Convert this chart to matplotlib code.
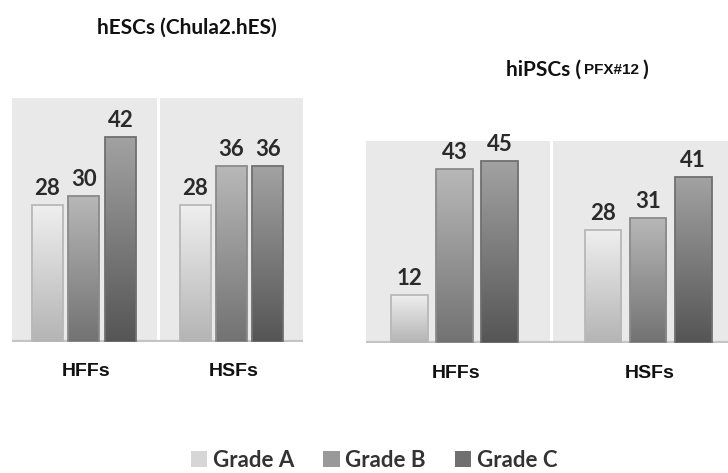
import numpy as np
import matplotlib
matplotlib.use("Agg")
import matplotlib.pyplot as plt
from matplotlib.patches import Rectangle
from matplotlib.colors import LinearSegmentedColormap
from matplotlib.text import Annotation

# ---------------- data ----------------
groups = ["HFFs", "HSFs"]
grades = ["Grade A", "Grade B", "Grade C"]

hesc_title = "hESCs (Chula2.hES)"
hesc_grade_a = [28, 28]
hesc_grade_b = [30, 36]
hesc_grade_c = [42, 36]

hipsc_title_main = "hiPSCs ("
hipsc_title_line = "PFX#12"
hipsc_grade_a = [12, 28]
hipsc_grade_b = [43, 31]
hipsc_grade_c = [45, 41]

# ---------------- style ----------------
W, H = 728, 473
DPI = 100
FONT = "Lato"
grad_top = {"Grade A": "#efefef", "Grade B": "#b8b8b8", "Grade C": "#a2a2a2"}
grad_bot = {"Grade A": "#b4b4b4", "Grade B": "#727272", "Grade C": "#555555"}
edge_col = {"Grade A": "#b8b8b8", "Grade B": "#8a8a8a", "Grade C": "#707070"}
legend_col = {"Grade A": "#d6d6d6", "Grade B": "#999999", "Grade C": "#707070"}

fig = plt.figure(figsize=(W / DPI, H / DPI), dpi=DPI)


def fig_rect(x0, y0, x1, y1):
    return [x0 / W, 1 - y1 / H, (x1 - x0) / W, (y1 - y0) / H]


def draw_panel(ax, series, xlim, offset, width):
    ax.set_facecolor("#e9e9e9")
    for s in ax.spines.values():
        s.set_visible(False)
    ax.set_xticks([])
    ax.set_yticks([])
    x = np.arange(len(groups))
    for k, (grade, vals) in enumerate(zip(grades, series)):
        bars = ax.bar(x + (k - 1) * offset, vals, width, facecolor="none",
                      edgecolor=edge_col[grade], linewidth=1.3, zorder=4)
        cmap = LinearSegmentedColormap.from_list(grade, [grad_bot[grade], grad_top[grade]])
        for b, v in zip(bars, vals):
            bx, by = b.get_x(), b.get_y()
            bw, bh = b.get_width(), b.get_height()
            im = ax.imshow(np.linspace(0, 1, 256).reshape(-1, 1), cmap=cmap,
                           extent=[bx, bx + bw, by, by + bh], origin="lower",
                           aspect="auto", zorder=3)
            im.set_clip_path(b)
            ax.annotate(str(v), xy=(bx + bw / 2, bh), xytext=(0, 10),
                        textcoords="offset pixels", ha="center", va="baseline",
                        fontsize=16, fontweight="bold", fontfamily=FONT,
                        color="#2a2a2a", zorder=5)
    ax.axvline(0.5, color="white", lw=2.2, zorder=2)
    ax.axhline(0, color="#c4c4c4", lw=3, zorder=2)
    for i, g in enumerate(groups):
        ax.annotate(g, xy=(i, 0), xytext=(2, -30), textcoords="offset pixels",
                    ha="center", va="center", fontsize=14, fontweight="bold",
                    fontfamily="Liberation Sans", color="#111111")
    ax.set_xlim(*xlim)
    ax.set_ylim(0, 50)


ax1 = fig.add_axes(fig_rect(12, 98, 303, 342))
draw_panel(ax1, [hesc_grade_a, hesc_grade_b, hesc_grade_c], (-0.488, 1.485), 0.247, 0.21)

ax2 = fig.add_axes(fig_rect(366, 141, 728, 343))
draw_panel(ax2, [hipsc_grade_a, hipsc_grade_b, hipsc_grade_c], (-0.457, 1.413), 0.233, 0.19)

# titles
fig.text(187 / W, 1 - 28 / H, hesc_title, ha="center", va="center",
         fontsize=15, fontweight="bold", fontfamily=FONT, color="#111111")
t1 = fig.text(506 / W, 1 - 70 / H, hipsc_title_main, ha="left", va="center",
              fontsize=15, fontweight="bold", fontfamily=FONT, color="#111111")
a2 = fig.add_artist(Annotation(
    hipsc_title_line, xy=(1, 0), xycoords=t1, xytext=(3, 3), textcoords="offset pixels",
    ha="left", va="bottom", fontsize=11, fontweight="bold",
    fontfamily="Liberation Sans", color="#111111"))
a3 = fig.add_artist(Annotation(
    ")", xy=(1, 0), xycoords=a2, xytext=(3, -3), textcoords="offset pixels",
    ha="left", va="bottom", fontsize=15, fontweight="bold",
    fontfamily=FONT, color="#111111"))

handles = [Rectangle((0, 0), 1, 1, facecolor=legend_col[g], edgecolor="none") for g in grades]
fig.legend(handles, grades, loc="center", bbox_to_anchor=(374 / W, 1 - 460 / H),
           ncol=3, frameon=False, prop={"family": FONT, "size": 16, "weight": "bold"},
           handlelength=0.75, handleheight=0.75, handletextpad=0.25,
           columnspacing=1.3, labelcolor="#333333")

fig.savefig("out.png", dpi=DPI)
